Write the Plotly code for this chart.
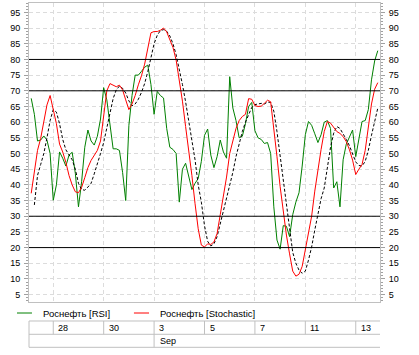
import plotly.graph_objects as go

# ---------------- data (hourly-ish bars, 8 per trading day) ----------------
bars = list(range(1, 112))

rsi = [67.6, 62.5, 54, 54.3, 55.6, 54.3, 50, 35.1, 40, 50.5,
       48.5, 46, 49.5, 50.4, 43.7, 33, 41, 52, 57.5, 54,
       52.7, 55.5, 61, 71, 67.1, 58.5, 51.5, 51.5, 51, 44,
       35, 59, 68.5, 75, 75, 76.2, 77.5, 78.2, 72, 62.5,
       69.8, 68.5, 67.7, 58, 52, 51.3, 50, 34.5, 45, 46.9,
       43, 38.5, 40.5, 42, 47.5, 55.8, 57.8, 49.5, 45.5, 49,
       54.3, 50.5, 48.5, 74.5, 64.5, 60.5, 55, 55.5, 59.5, 65,
       66.3, 57.3, 55, 54.5, 53.2, 53.5, 50, 33, 22.4, 19.5,
       27, 26.8, 23.5, 30.5, 34.5, 37.5, 46, 56, 60.2, 59,
       56.3, 53.5, 56, 60, 60.5, 58, 39, 41, 33, 48,
       53, 55.3, 57.5, 49, 54, 60.2, 60.5, 64, 73.5, 79.5,
       82.8]

stoch_k = [37.3, 45, 51, 54.8, 60, 65.5, 68.5, 64, 59.5, 53,
           50.5, 47.2, 43, 40, 37.8, 37.5, 39.2, 42.3, 45.5, 47.8,
           49.5, 51, 54, 63, 70, 72.3, 71.7, 71.3, 71.8, 70.3,
           67.1, 64, 65.8, 68.5, 71.9, 74.8, 78.5, 84.1, 88.5, 88.9,
           88.9, 89.3, 90, 88.8, 86.5, 83.8, 79.8, 73.5, 66.7, 58.6,
           51.5, 43, 34, 26, 20.8, 20.2, 21.2, 21, 21.8, 24.5,
           30.5, 36.5, 42.5, 50, 54.5, 58, 60.5, 61.8, 62.5, 67.5,
           67.3, 65.3, 65, 65.1, 66, 67, 66.5, 58.6, 49, 39.5,
           31.5, 24, 18, 12.5, 10.9, 11.5, 14, 19, 24.5, 30,
           38, 45, 51.3, 57, 60.2, 59.7, 58.2, 57, 56.4, 55.4,
           53.8, 51.2, 47.9, 43.3, 45, 46.5, 51, 58.6, 65.8, 70.5,
           72.6]

stoch_d = [None, 33.6, 43, 46.5, 50, 55, 60.5, 64, 63.2, 59.5,
           54.5, 51.2, 49.5, 48, 45, 40.5, 38.5, 38.3, 39.3, 40.5,
           43.5, 46.5, 50, 53.5, 58, 63.5, 67.5, 70.3, 71.5, 70.8,
           69.3, 66.8, 65.2, 65.8, 67.3, 69.5, 72.3, 76.1, 80.9, 85,
           87.7, 89.2, 89.5, 89, 87.5, 85, 81.5, 77, 72, 66.5,
           60.5, 54.5, 48, 40, 34.5, 27, 22, 20.5, 21.2, 23.5,
           27.5, 32, 36, 40, 44, 49, 53.5, 57, 60, 62.5,
           64.7, 65.6, 65.9, 66, 65.8, 66.4, 66.3, 63.5, 57, 49.5,
           41.5, 34, 26, 18.5, 15, 12.8, 11.8, 12.5, 16, 20.2,
           25.6, 30.5, 35.6, 39, 45.5, 52, 56.5, 58.6, 58, 56.4,
           54.5, 52.5, 50.1, 47.3, 46.2, 46, 47.5, 51, 55.8, 60.5,
           64.5]

day_bars = [8, 24, 40, 56, 72, 88, 104]
day_labels = ["28", "30", "3", "5", "7", "11", "13"]
month_bars = [40]
month_labels = ["Sep"]
levels = [80, 70, 30, 20]
series_names = ["Роснефть [RSI]", "Роснефть [Stochastic]"]

x_range = [0.3, 111.7]
y_range = [2.65, 98]

GREEN = "#008000"
RED = "#ff0000"
GRID = "#dcdcdc"
FRAME = "#c0c0c0"
TICK = "#a0a0a0"
FONT = "Liberation Sans"


def px(b):
    return (b - x_range[0]) / (x_range[1] - x_range[0])


fig = go.Figure()
fig.add_trace(go.Scatter(x=bars, y=rsi, mode="lines", name=series_names[0],
                         line=dict(color=GREEN, width=1), showlegend=False))
fig.add_trace(go.Scatter(x=bars, y=stoch_d, mode="lines", name="Signal",
                         line=dict(color="black", width=1, dash="3px,2px"),
                         showlegend=False))
fig.add_trace(go.Scatter(x=bars, y=stoch_k, mode="lines", name=series_names[1],
                         line=dict(color=RED, width=1), showlegend=False))

yax = dict(range=y_range, tickmode="array", tickvals=list(range(5, 100, 5)),
           ticks="outside", ticklen=4, tickwidth=1, tickcolor=TICK,
           minor=dict(tick0=0, dtick=1, ticks="outside", ticklen=2,
                      tickcolor=TICK, showgrid=False),
           showline=True, linecolor=FRAME, linewidth=1, zeroline=False,
           automargin=False,
           tickfont=dict(family=FONT, size=9, color="black"), ticklabelstandoff=2)

fig.update_layout(
    template="none",
    width=419, height=355,
    margin=dict(l=29, r=39, t=3, b=53, autoexpand=False),
    paper_bgcolor="white", plot_bgcolor="white",
    font=dict(family=FONT, size=9, color="black"),
    showlegend=False,
    xaxis=dict(range=x_range, tickmode="array", tickvals=day_bars,
               showticklabels=False, ticks="", showgrid=True, gridcolor=GRID,
               griddash="4px,3px", gridwidth=1, showline=True, linecolor=FRAME,
               linewidth=1, mirror=True, zeroline=False, automargin=False),
    yaxis=dict(**yax, showgrid=True, gridcolor=GRID, griddash="4px,3px", gridwidth=1),
    yaxis2=dict(**yax, overlaying="y", side="right", showgrid=False),
)
# invisible trace to activate the right axis
fig.add_trace(go.Scatter(x=[bars[0]], y=[y_range[0]], yaxis="y2", mode="markers",
                         marker=dict(opacity=0), showlegend=False, hoverinfo="skip"))

shapes = []
for lv in levels:
    shapes.append(dict(type="line", xref="paper", yref="y", x0=0, x1=1, y0=lv, y1=lv,
                       line=dict(color="black", width=1)))

# legend (manual)
leg_y = -0.0368
shapes.append(dict(type="line", xref="paper", yref="paper", x0=-0.0342, x1=0.0085,
                   y0=leg_y, y1=leg_y, line=dict(color=GREEN, width=1)))
shapes.append(dict(type="line", xref="paper", yref="paper", x0=0.299, x1=0.342,
                   y0=leg_y, y1=leg_y, line=dict(color=RED, width=1)))
annotations = [
    dict(xref="paper", yref="paper", x=0.0356, y=leg_y, text=series_names[0],
         showarrow=False, xanchor="left", yanchor="middle",
         font=dict(family=FONT, size=9.5, color="black")),
    dict(xref="paper", yref="paper", x=0.3675, y=leg_y, text=series_names[1],
         showarrow=False, xanchor="left", yanchor="middle",
         font=dict(family=FONT, size=9.5, color="black")),
]

# date table under the chart
t_top, t_mid, t_bot = -0.0635, -0.108, -0.1515
for yy in (t_top, t_mid, t_bot):
    shapes.append(dict(type="line", xref="paper", yref="paper", x0=0, x1=1,
                       y0=yy, y1=yy, line=dict(color=FRAME, width=1)))
shapes.append(dict(type="line", xref="paper", yref="paper", x0=0, x1=0,
                   y0=t_top, y1=t_bot, line=dict(color=FRAME, width=1)))
for b, lab in zip(day_bars, day_labels):
    shapes.append(dict(type="line", xref="paper", yref="paper", x0=px(b), x1=px(b),
                       y0=t_top, y1=t_mid, line=dict(color=FRAME, width=1)))
    annotations.append(dict(xref="paper", yref="paper", x=px(b), y=(t_top + t_mid) / 2,
                            text=lab, showarrow=False, xanchor="left", yanchor="middle",
                            xshift=3, font=dict(family=FONT, size=9, color="black")))
for b, lab in zip(month_bars, month_labels):
    shapes.append(dict(type="line", xref="paper", yref="paper", x0=px(b), x1=px(b),
                       y0=t_mid, y1=t_bot, line=dict(color=FRAME, width=1)))
    annotations.append(dict(xref="paper", yref="paper", x=px(b), y=(t_mid + t_bot) / 2,
                            text=lab, showarrow=False, xanchor="left", yanchor="middle",
                            xshift=4, font=dict(family=FONT, size=9, color="black")))

fig.update_layout(shapes=shapes, annotations=annotations)
fig.write_html("out.html",
               config={"displayModeBar": False, "staticPlot": True},
               post_script="document.body.style.margin='0';document.body.style.padding='0';")
